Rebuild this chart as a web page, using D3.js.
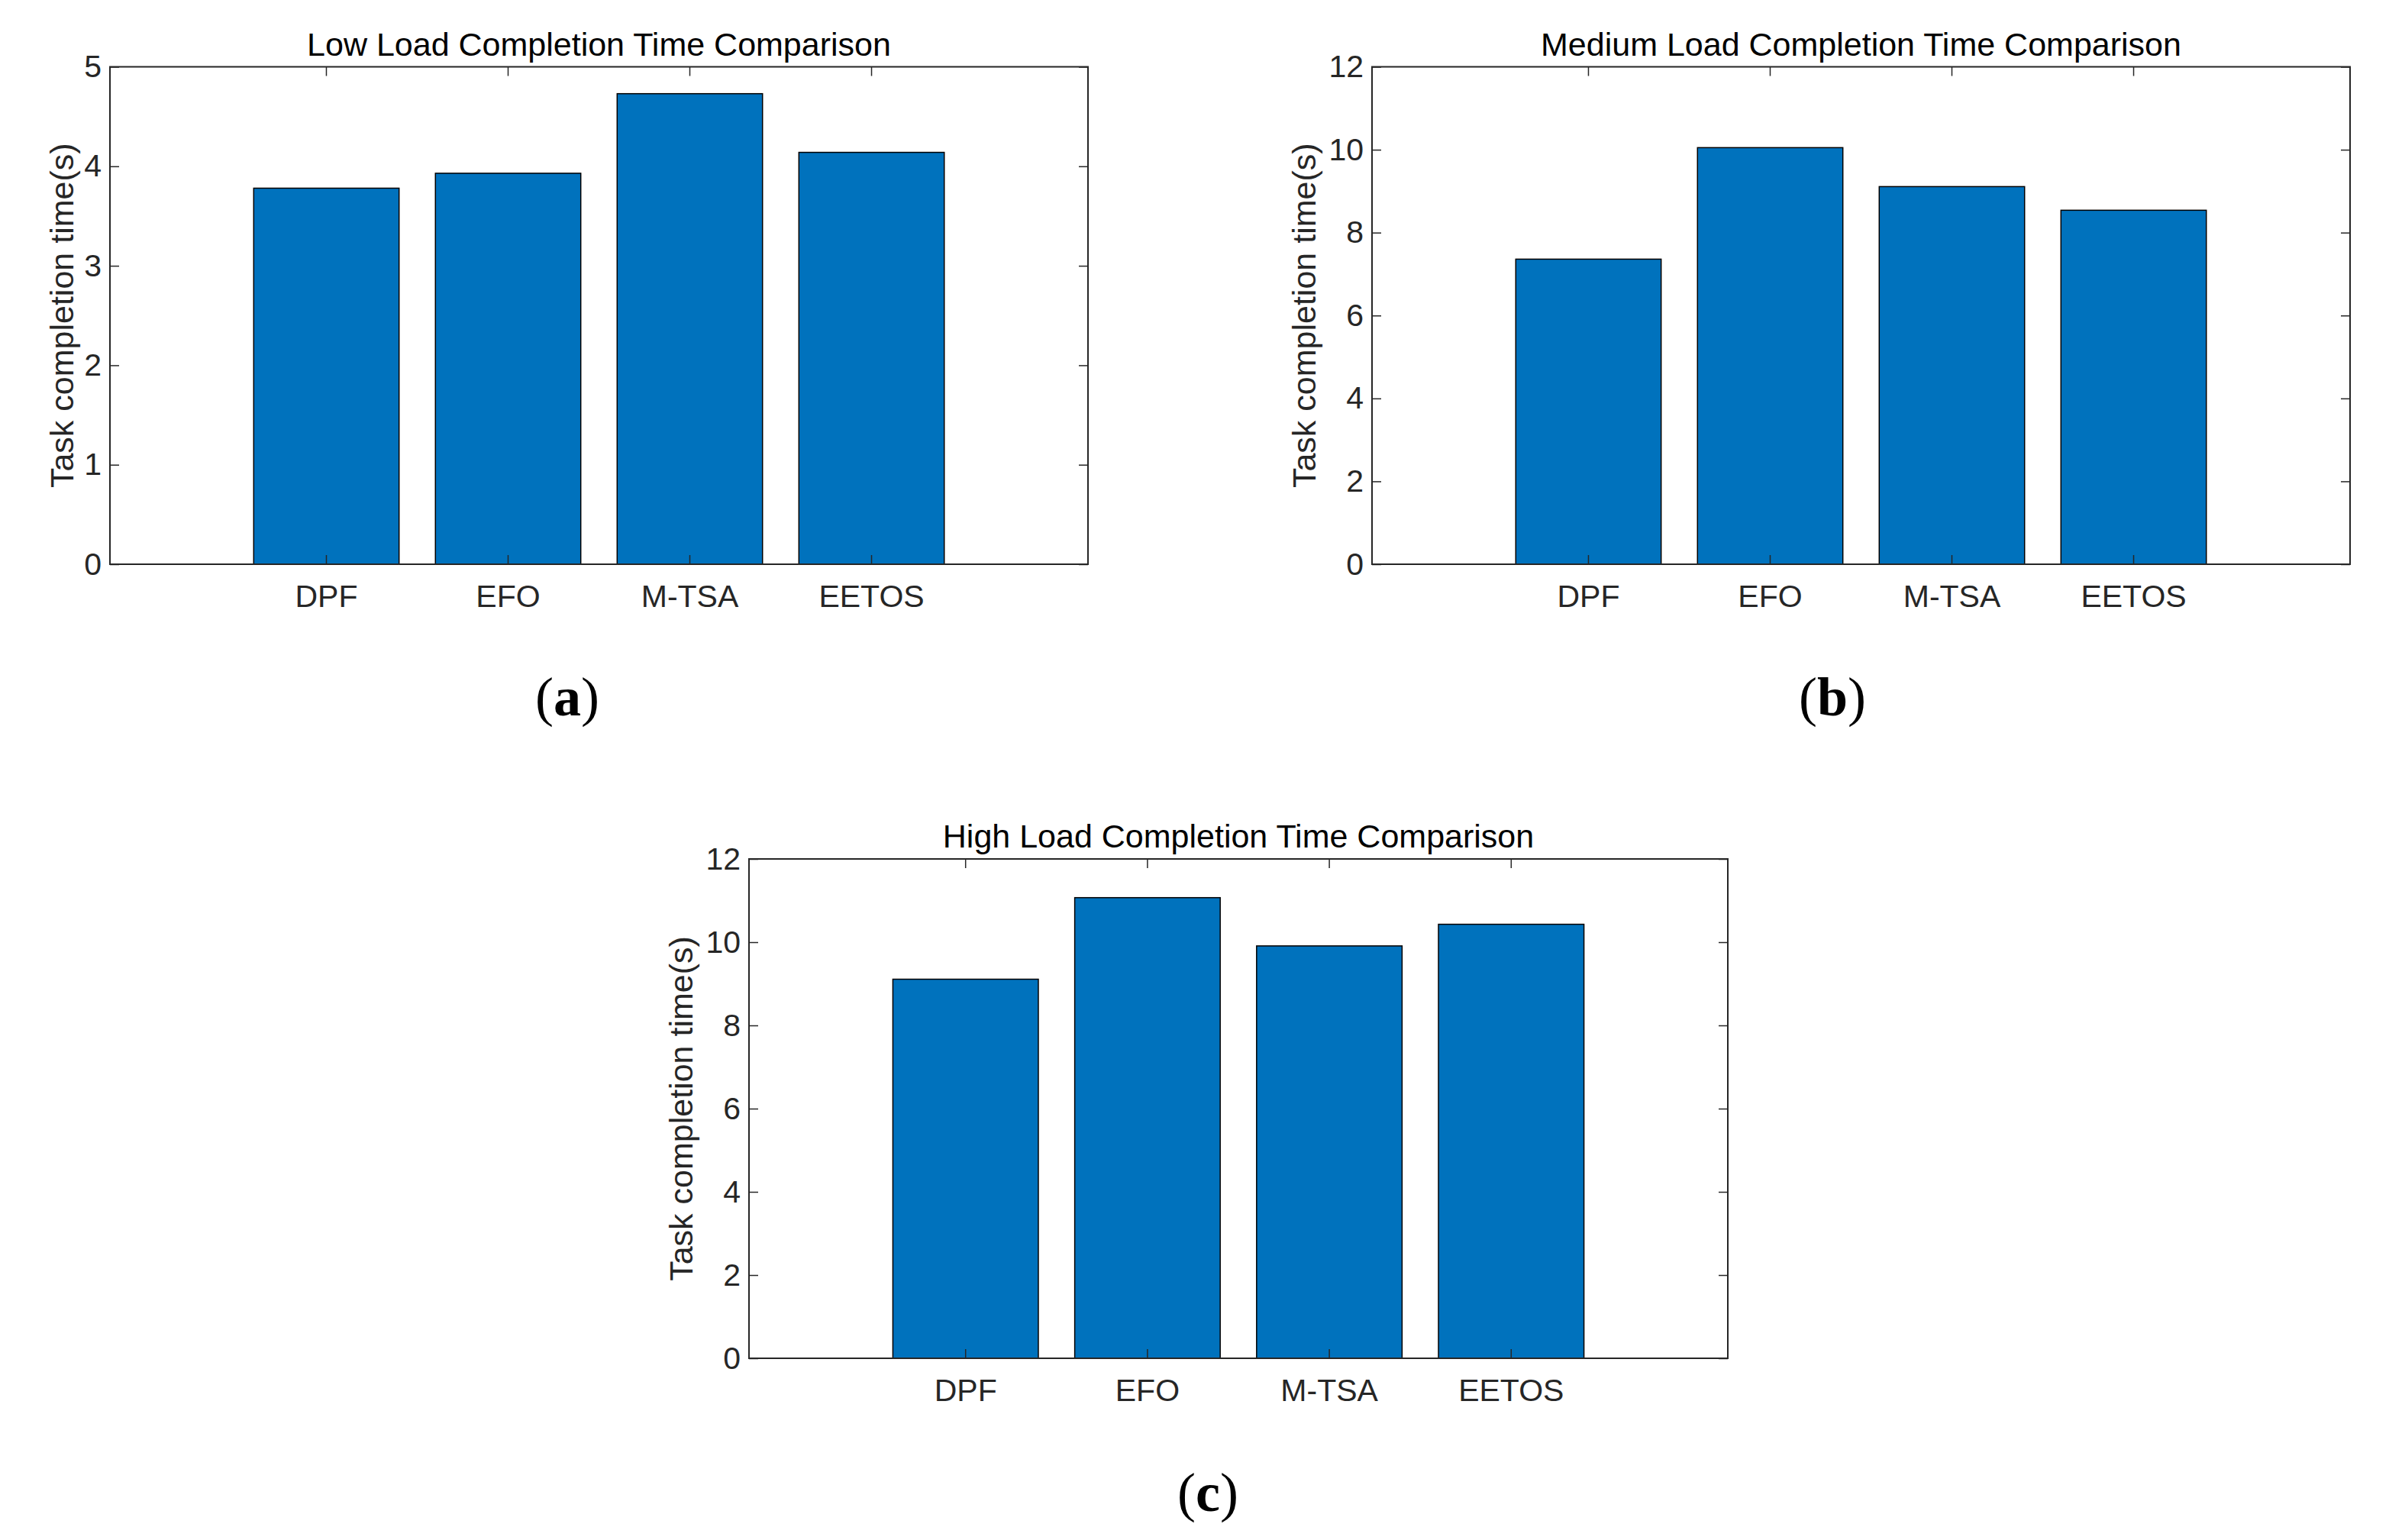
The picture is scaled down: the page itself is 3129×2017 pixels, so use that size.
<!DOCTYPE html>
<html>
<head>
<meta charset="utf-8">
<script src="https://cdn.jsdelivr.net/npm/d3@7"></script>
<style>
  html, body { margin: 0; padding: 0; background: #ffffff; }
  svg { display: block; }
</style>
</head>
<body>
<svg id="chart" width="3129" height="2017"></svg>
<script>
// ---------------- DATA ----------------
const categories = ["DPF", "EFO", "M-TSA", "EETOS"];
const lowLoadTimes = [3.78, 3.93, 4.73, 4.14];
const mediumLoadTimes = [7.36, 10.05, 9.11, 8.54];
const highLoadTimes = [9.11, 11.07, 9.91, 10.43];
const lowTicks = [0, 1, 2, 3, 4, 5];
const mediumTicks = [0, 2, 4, 6, 8, 10, 12];
const highTicks = [0, 2, 4, 6, 8, 10, 12];
const panelTitles = [
  "Low Load Completion Time Comparison",
  "Medium Load Completion Time Comparison",
  "High Load Completion Time Comparison"
];
const subLetters = ["a", "b", "c"];
const yLabel = "Task completion time(s)";

// ---------------- LAYOUT ----------------
const panels = [
  { values: lowLoadTimes, ticks: lowTicks, ymax: 5, title: panelTitles[0], letter: subLetters[0],
    left: 144, top: 87.5, width: 1281, height: 651.5, ylabOff: 48, subX: 743, subY: 937 },
  { values: mediumLoadTimes, ticks: mediumTicks, ymax: 12, title: panelTitles[1], letter: subLetters[1],
    left: 1797, top: 87.5, width: 1281, height: 651.5, ylabOff: 74, subX: 2400, subY: 937 },
  { values: highLoadTimes, ticks: highTicks, ymax: 12, title: panelTitles[2], letter: subLetters[2],
    left: 981, top: 1125, width: 1282, height: 654, ylabOff: 74, subX: 1582, subY: 1979 }
];

const AXIS = "#262626";
const BAR = "#0072BD";
const FONT = "'Liberation Sans', Arial, Helvetica, sans-serif";
const TICK_FS = 41;
const LABEL_FS = 43;
const TITLE_FS = 43;
const TICK_LEN = 12;

const svg = d3.select("#chart");
svg.append("rect").attr("width", 3129).attr("height", 2017).attr("fill", "#ffffff");

panels.forEach(p => {
  const g = svg.append("g").attr("transform", `translate(${p.left},${p.top})`);
  const W = p.width, H = p.height;

  const x = d3.scaleBand().domain(categories).range([0, W])
    .paddingInner(0.2).paddingOuter(0.791).align(0.5);
  const y = d3.scaleLinear().domain([0, p.ymax]).range([H, 0]);

  // bars
  g.selectAll("rect.bar").data(categories.map((c, i) => ({ c, v: p.values[i] })))
    .enter().append("rect").attr("class", "bar")
    .attr("x", d => x(d.c))
    .attr("y", d => y(d.v))
    .attr("width", x.bandwidth())
    .attr("height", d => y(0) - y(d.v))
    .attr("fill", BAR)
    .attr("stroke", "#000000")
    .attr("stroke-width", 1.5);

  // axes (ticks inward, MATLAB box style)
  const styleAxis = sel => {
    sel.select(".domain").remove();
    sel.selectAll(".tick line").attr("stroke", AXIS).attr("stroke-width", 1.5);
    sel.selectAll(".tick text").attr("fill", AXIS).attr("font-family", FONT).attr("font-size", TICK_FS);
  };

  const left = g.append("g")
    .call(d3.axisLeft(y).tickValues(p.ticks).tickFormat(d3.format("d")).tickSize(-TICK_LEN).tickPadding(11));
  styleAxis(left);

  const right = g.append("g").attr("transform", `translate(${W},0)`)
    .call(d3.axisRight(y).tickValues(p.ticks).tickFormat("").tickSize(-TICK_LEN));
  styleAxis(right);

  const bottom = g.append("g").attr("transform", `translate(0,${H})`)
    .call(d3.axisBottom(x).tickSize(-TICK_LEN).tickSizeOuter(0));
  styleAxis(bottom);
  bottom.selectAll(".tick text").attr("y", 56).attr("dy", null);

  const top = g.append("g")
    .call(d3.axisTop(x).tickSize(-TICK_LEN).tickSizeOuter(0).tickFormat(""));
  styleAxis(top);

  // box
  g.append("rect").attr("x", 0).attr("y", 0).attr("width", W).attr("height", H)
    .attr("fill", "none").attr("stroke", AXIS).attr("stroke-width", 2);

  // title
  g.append("text").attr("x", W / 2).attr("y", -15)
    .attr("text-anchor", "middle").attr("font-family", FONT).attr("font-size", TITLE_FS)
    .attr("fill", "#000000").text(p.title);

  // y label
  g.append("text")
    .attr("transform", `translate(${-p.ylabOff},${H / 2}) rotate(-90)`)
    .attr("text-anchor", "middle").attr("font-family", FONT).attr("font-size", LABEL_FS)
    .attr("fill", AXIS).text(yLabel);

  // subcaption
  const sub = svg.append("text").attr("x", p.subX).attr("y", p.subY)
    .attr("text-anchor", "middle")
    .attr("font-family", "'Liberation Serif', 'Times New Roman', serif")
    .attr("font-size", 72).attr("fill", "#000000");
  sub.append("tspan").text("(");
  sub.append("tspan").attr("font-weight", "bold").text(p.letter);
  sub.append("tspan").text(")");
});
</script>
</body>
</html>
